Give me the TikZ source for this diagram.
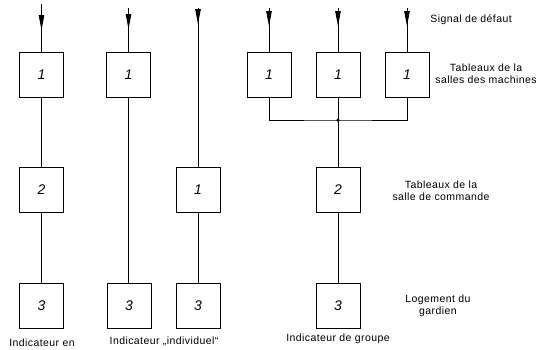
\documentclass[tikz,border=0pt]{standalone}
\usepackage{fontspec}
\setmainfont{Liberation Sans}
\newfontfamily\lblfont[LetterSpace=4]{Liberation Sans}
\usetikzlibrary{arrows.meta}
\begin{document}
\begin{tikzpicture}[x=1pt,y=-1pt,line width=0.8pt,
  box/.style={draw,minimum width=44pt,minimum height=45pt,inner sep=0pt,font=\fontsize{14}{14}\selectfont\itshape},
  lab/.style={font=\lblfont\fontsize{10.5}{12}\selectfont,align=center,inner sep=0pt},
  arr/.style={-{Triangle[length=15pt,width=5.5pt]}},
  dot/.style={circle,fill,inner sep=0pt,minimum size=3.5pt}]
\useasboundingbox (0,0) rectangle (541,349);
% column 1
\node[box] (a1) at (41.5,74.5) {1};
\node[box] (a2) at (41.5,190) {2};
\node[box] (a3) at (41.5,306) {3};
\coordinate (ta) at (41.5,4);
\coordinate (pa) at (41.5,30);
% column 2
\node[box] (b1) at (128.5,74.5) {1};
\node[box] (b3) at (129,306) {3};
\coordinate (tb) at (128.5,8);
\coordinate (pb) at (128.5,29);
% column 3
\node[box] (c2) at (198,190) {1};
\node[box] (c3) at (198,306) {3};
\coordinate (tc) at (198,8);
\coordinate (pc) at (198,24);
% group
\node[box] (d1) at (269,74.5) {1};
\node[box] (e1) at (338,74.5) {1};
\node[box] (f1) at (407,74.5) {1};
\node[box] (e2) at (338,190) {2};
\node[box] (e3) at (338,306) {3};
\coordinate (td) at (269,8);
\coordinate (pd) at (269,26);
\coordinate (te) at (338,8);
\coordinate (pe) at (338,26);
\coordinate (tf) at (407,8);
\coordinate (pf) at (407,26);
\coordinate (jc) at (338,120);
% connectors
\draw (ta) -- (a1); \draw[arr] (ta) -- (pa);
\draw (a1) -- (a2); \draw (a2) -- (a3);
\draw (tb) -- (b1); \draw[arr] (tb) -- (pb);
\draw (b1.south) -- (b1.south |- b3.north);
\draw (tc) -- (c2); \draw[arr] (tc) -- (pc);
\draw (c2) -- (c3);
\draw (td) -- (d1); \draw[arr] (td) -- (pd);
\draw (te) -- (e1); \draw[arr] (te) -- (pe);
\draw (tf) -- (f1); \draw[arr] (tf) -- (pf);
\draw (d1.south) |- (jc) -| (f1.south);
\draw (e1) -- (e2); \draw (e2) -- (e3);
\node[dot] (j) at (jc) {};
% labels
\node[lab,anchor=west] (s1) at (430,20) {Signal de défaut};
\node[lab] (s2) at (486,74) {Tableaux de la\\salles des machines};
\node[lab] (s3) at (441,191) {Tableaux de la\\salle de commande};
\node[lab] (s4) at (438,306) {Logement du\\gardien};
\node[lab] (l1) at (42,343) {Indicateur en};
\node[lab] (l2) at (164,341) {Indicateur „individuel“};
\node[lab] (l3) at (338,339) {Indicateur de groupe};
\end{tikzpicture}
\end{document}
